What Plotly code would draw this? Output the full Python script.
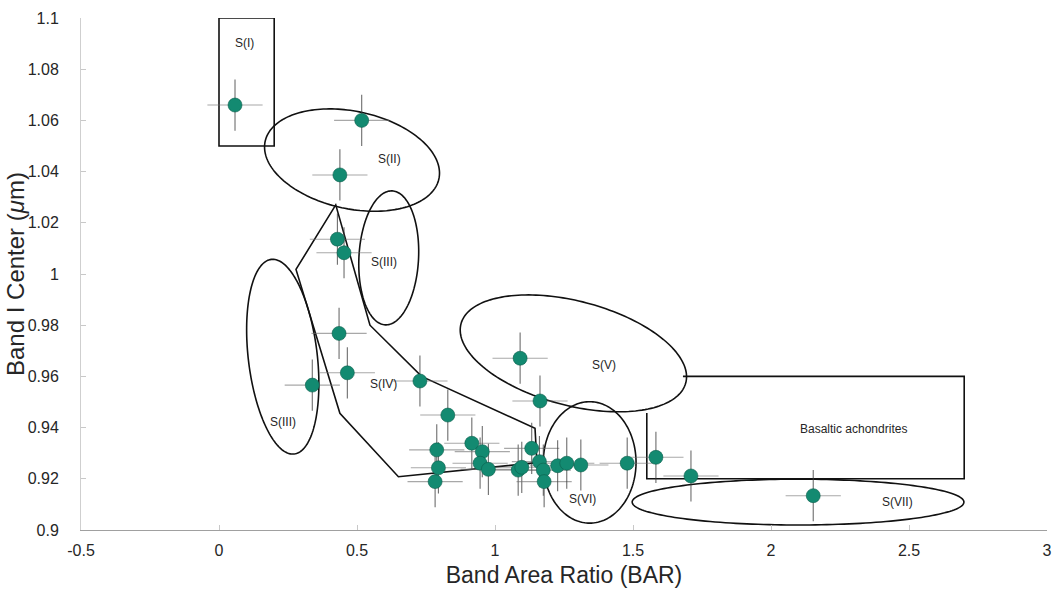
import numpy as np
import plotly.graph_objects as go

# ---------------- data ----------------
bar = [0.058, 0.517, 0.438, 0.429, 0.453, 0.435, 0.465, 0.338, 0.728, 0.829, 1.091, 1.163,
       0.916, 0.954, 0.946, 0.976, 1.084, 1.097, 1.133, 1.161, 1.175, 1.178, 1.227, 1.260, 1.311,
       0.789, 0.795, 0.783, 1.479, 1.583, 1.710, 2.153]
band1 = [1.066, 1.060, 1.0387, 1.0136, 1.0083, 0.9768, 0.9614, 0.9566, 0.9582, 0.9449, 0.9671, 0.9504,
         0.9339, 0.9306, 0.9261, 0.9237, 0.9234, 0.9245, 0.9319, 0.9267, 0.9234, 0.9189, 0.9251, 0.9261, 0.9254,
         0.9313, 0.9243, 0.9189, 0.9261, 0.9284, 0.9211, 0.9134]
bar_err = [0.1] * len(bar)
band1_err = [0.01] * len(band1)

x_ticks = [-0.5, 0, 0.5, 1, 1.5, 2, 2.5, 3]
x_ticklabels = ["-0.5", "0", "0.5", "1", "1.5", "2", "2.5", "3"]
y_ticks = [0.9, 0.92, 0.94, 0.96, 0.98, 1.0, 1.02, 1.04, 1.06, 1.08, 1.1]
y_ticklabels = ["0.9", "0.92", "0.94", "0.96", "0.98", "1", "1.02", "1.04", "1.06", "1.08", "1.1"]

# Region outlines (ellipses: centre x, centre y, semi-axes in x-units, visual angle deg)
ell_names = ["S(II)", "S(III)a", "S(III)b", "S(V)", "S(VI)", "S(VII)"]
ell_cx = [0.482, 0.615, 0.231, 1.284, 1.343, 2.098]
ell_cy = [1.0445, 1.0063, 0.9677, 0.969, 0.9264, 0.9109]
ell_a = [0.322, 0.243, 0.355, 0.421, 0.220, 0.601]
ell_b = [0.1765, 0.108, 0.125, 0.189, 0.168, 0.083]
ell_ang = [-12.2, 87, 96.7, -14.7, 90, 0]

s1_rect_x = [0, 0.2]
s1_rect_y = [1.05, 1.1]
s4_poly_x = [0.423, 0.547, 0.734, 1.145, 1.152, 0.65, 0.438, 0.279]
s4_poly_y = [1.027, 0.98, 0.96, 0.9397, 0.9263, 0.9208, 0.9456, 1.0018]
ba_x = [1.681, 2.7, 2.7, 1.55, 1.55]
ba_y = [0.96, 0.96, 0.92, 0.92, 0.9457]

label_text = ["S(I)", "S(II)", "S(III)", "S(III)", "S(IV)", "S(V)", "S(VI)", "S(VII)", "Basaltic achondrites"]
label_x = [0.092, 0.617, 0.598, 0.233, 0.595, 1.395, 1.316, 2.459, 2.298]
label_y = [1.0902, 1.0448, 1.0048, 0.9421, 0.957, 0.9645, 0.9121, 0.9108, 0.9395]

# ---------------- figure ----------------
X_RANGE = [-0.5, 3]
Y_RANGE = [0.9, 1.1]
W, H = 1054, 592
M = dict(l=81, r=7, t=18, b=62)
plot_w = W - M["l"] - M["r"]
px_per_x = plot_w / (X_RANGE[1] - X_RANGE[0])
px_per_y = (H - M["t"] - M["b"]) / (Y_RANGE[1] - Y_RANGE[0])
k = px_per_x / px_per_y

FONT = "Liberation Sans, Arial, sans-serif"
LINE = dict(color="#111111", width=1.6)

shapes = []
t = np.linspace(0, 2 * np.pi, 181)
for cx, cy, a, b, ang in zip(ell_cx, ell_cy, ell_a, ell_b, ell_ang):
    th = np.deg2rad(ang)
    u = a * np.cos(t) * np.cos(th) - b * np.sin(t) * np.sin(th)
    v = a * np.cos(t) * np.sin(th) + b * np.sin(t) * np.cos(th)
    xs = cx + u
    ys = cy + v * k
    path = "M " + " L ".join(f"{x:.5f},{y:.5f}" for x, y in zip(xs, ys)) + " Z"
    shapes.append(dict(type="path", path=path, xref="x", yref="y", line=LINE, layer="below"))

shapes.append(dict(type="rect", x0=s1_rect_x[0], x1=s1_rect_x[1], y0=s1_rect_y[0], y1=s1_rect_y[1],
                   xref="x", yref="y", line=LINE, layer="below"))
shapes.append(dict(type="path", xref="x", yref="y", line=LINE, layer="below",
                   path="M " + " L ".join(f"{x},{y}" for x, y in zip(s4_poly_x, s4_poly_y)) + " Z"))
shapes.append(dict(type="path", xref="x", yref="y", line=LINE, layer="below",
                   path="M " + " L ".join(f"{x},{y}" for x, y in zip(ba_x, ba_y))))

fig = go.Figure()
fig.add_trace(go.Scatter(
    x=bar, y=band1, mode="markers",
    marker=dict(size=14, color="#138a71", line=dict(color="#0b5e4c", width=0.6)),
    error_x=dict(type="data", array=bar_err, visible=True, color="rgba(110,110,110,0.6)", thickness=1.1, width=0),
    error_y=dict(type="data", array=band1_err, visible=True, color="rgba(60,60,60,0.75)", thickness=1.1, width=0),
    showlegend=False, cliponaxis=False,
))

annotations = [dict(x=x, y=y, text=s, xref="x", yref="y", showarrow=False,
                    font=dict(family=FONT, size=12, color="#262626"))
               for s, x, y in zip(label_text, label_x, label_y)]
# y-axis title
annotations.append(dict(x=(15 - M["l"]) / plot_w, y=0.5, xref="paper", yref="paper",
                        text="Band I Center (<i>μ</i>m)", textangle=-90, showarrow=False,
                        xanchor="center", yanchor="middle",
                        font=dict(family=FONT, size=24, color="#262626")))

axis_common = dict(showline=True, linewidth=1, ticks="inside", ticklen=5, tickwidth=1,
                   showgrid=False, zeroline=False, mirror=False, automargin=False,
                   tickfont=dict(family=FONT, size=16, color="#262626"))

fig.update_layout(
    width=W, height=H, margin=M, autosize=False,
    paper_bgcolor="white", plot_bgcolor="white",
    shapes=shapes, annotations=annotations,
    xaxis=dict(range=X_RANGE, tickvals=x_ticks, ticktext=x_ticklabels,
               linecolor="#a0a0a0", tickcolor="#c8c8c8", ticklabelstandoff=6,
               title=dict(text="Band Area Ratio (BAR)", font=dict(family=FONT, size=23, color="#262626"), standoff=8),
               **axis_common),
    yaxis=dict(range=Y_RANGE, tickvals=y_ticks, ticktext=y_ticklabels,
               linecolor="#cfcfcf", tickcolor="#c8c8c8", ticklabelstandoff=18,
               **axis_common),
)

fig.write_html("out.html", config={"displayModeBar": False},
               post_script="document.body.style.margin='0';")
